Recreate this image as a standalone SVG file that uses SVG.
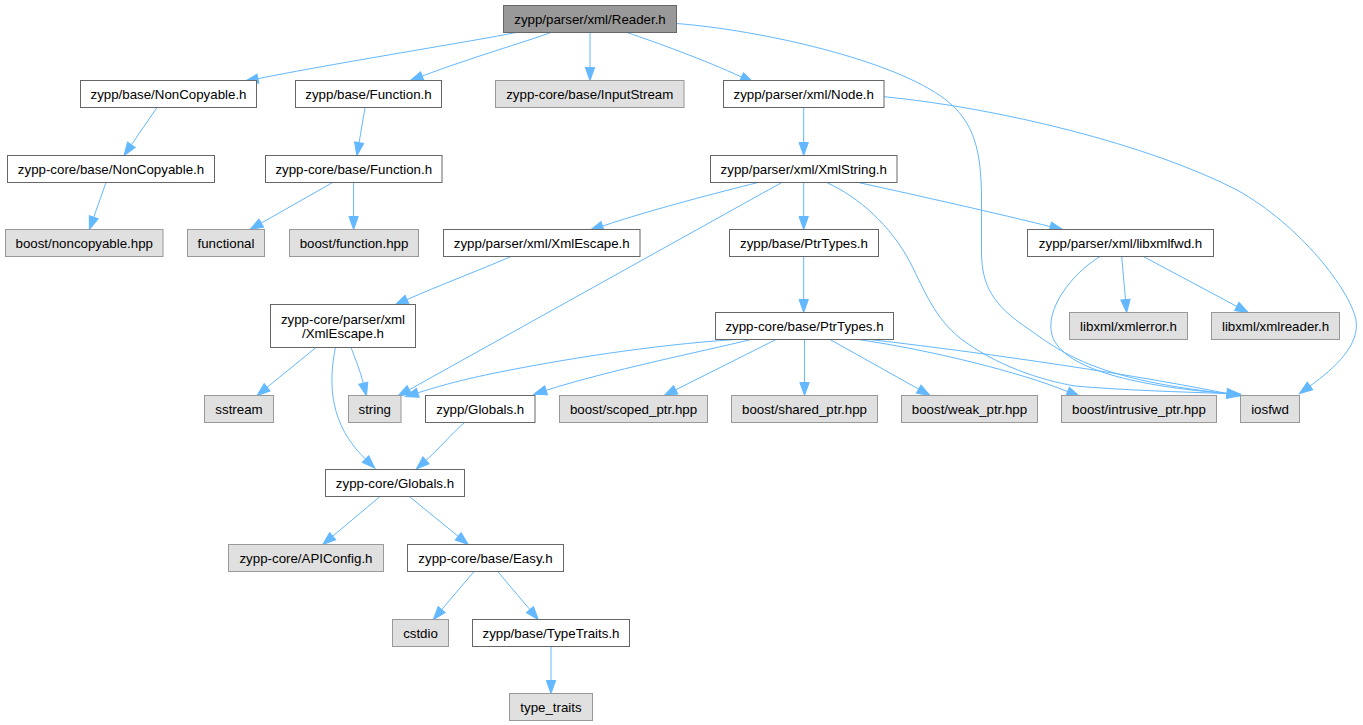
<svg xmlns="http://www.w3.org/2000/svg" width="1363" height="725" viewBox="0 0 1363 725">
<style>
.n rect{fill:#ffffff;stroke:#666666;stroke-width:1}
.x rect{fill:#e0e0e0;stroke:#999999;stroke-width:1}
.r rect{fill:#999999;stroke:#666666;stroke-width:1}
text{font-family:"Liberation Sans",Arial,Helvetica,sans-serif;font-size:13.3px;text-anchor:middle;fill:#000000}
#edges path{fill:none;stroke:#63b8ff;stroke-width:1;marker-end:url(#arr)}
</style>
<defs>
<marker id="arr" markerUnits="userSpaceOnUse" markerWidth="13" markerHeight="9.3" refX="0" refY="4.65" orient="auto" overflow="visible">
<path d="M0,0 L13,4.65 L0,9.3 z" fill="#63b8ff" stroke="#63b8ff" stroke-width="1"/>
</marker>
</defs>
<rect x="0" y="0" width="1363" height="725" fill="#ffffff"/>
<g id="edges">
<path d="M516,32.5 C480,40 330,64 257.9,78.7"/>
<path d="M551,32.5 C525,42 470,58 422.2,76.1"/>
<path d="M590,32.5 L590,67.5"/>
<path d="M627,32.5 C655,42 705,60 741.5,77"/>
<path d="M676.5,23.5 C760,30 895,60 946,100 C974,122 981.5,150 981.5,200 L981.5,253 C982,285 992,305 1030,330 C1065,355 1100,380 1227.2,393.5"/>
<path d="M803.7,107.5 L803.7,142.5"/>
<path d="M884,96.7 C1000,108 1150,145 1237,190 C1300,225 1350,290 1356,320 C1360,345 1335,368 1310,386"/>
<path d="M157,107.5 L131.4,144.8"/>
<path d="M106,182.5 L93.7,217.3"/>
<path d="M365,107.5 L359.1,142.7"/>
<path d="M332.6,182.5 L261.3,223.1"/>
<path d="M353.6,182.5 L353.6,216.5"/>
<path d="M758,182.5 C720,192 650,210 602.5,226.1"/>
<path d="M781.7,182.5 L409.3,389.7"/>
<path d="M803.7,182.5 L803.7,216.5"/>
<path d="M826.7,182.5 C860,198 890,225 910,262 C925,292 935,318 960,338 C995,365 1040,380 1075,386 C1120,390 1180,392 1227.2,393.5"/>
<path d="M858.3,182.5 C920,196 1000,214 1050.3,226.6"/>
<path d="M1121.7,256.5 L1125.5,299.6"/>
<path d="M1143.3,256.5 L1236.8,306.4"/>
<path d="M1100,256.5 C1070,275 1045,310 1052,335 C1060,362 1110,384 1227.2,393.5"/>
<path d="M511,256.5 C480,270 440,285 407,299.6"/>
<path d="M803.7,256.5 L803.7,299.5"/>
<path d="M735.8,339.5 C650,345 560,360 500,372 C460,380 440,386 417.8,392.8"/>
<path d="M751,339.5 C700,352 610,370 546.1,390.3"/>
<path d="M776,339.5 L675.7,389.8"/>
<path d="M804.5,339.5 L804.5,382.5"/>
<path d="M830,339.5 L918.7,389.1"/>
<path d="M858.3,339.5 C930,350 1020,372 1067.6,391.6"/>
<path d="M870,339.5 C960,350 1110,370 1227.2,393.5"/>
<path d="M316,347.5 L267.1,387.3"/>
<path d="M351,347.5 C355,358 360,370 363.3,383.2"/>
<path d="M335.4,347.5 C328,385 330,425 365.5,459.1"/>
<path d="M465.7,421.5 C450,435 440,448 426,460.4"/>
<path d="M380,496.5 L332.7,536.2"/>
<path d="M409.3,496.5 L458.2,536.3"/>
<path d="M474,571.5 L441.7,609.6"/>
<path d="M497.7,571.5 L529.9,609.6"/>
<path d="M551,646.5 L551,680.5"/>
</g>
<g id="reader" class="r"><rect x="503.5" y="5.5" width="173" height="27"/><text x="590" y="23.8">zypp/parser/xml/Reader.h</text></g>
<g id="noncopyable" class="n"><rect x="80.5" y="80.5" width="176" height="27"/><text x="168.5" y="98.8">zypp/base/NonCopyable.h</text></g>
<g id="function" class="n"><rect x="295.5" y="80.5" width="146" height="27"/><text x="368.5" y="98.8">zypp/base/Function.h</text></g>
<g id="inputstream" class="x"><rect x="495.5" y="80.5" width="188.5" height="27"/><text x="589.75" y="98.8">zypp-core/base/InputStream</text></g>
<g id="node" class="n"><rect x="723.5" y="80.5" width="160.5" height="27"/><text x="803.75" y="98.8">zypp/parser/xml/Node.h</text></g>
<g id="core_noncopyable" class="n"><rect x="7.5" y="155.5" width="207" height="27"/><text x="111" y="173.8">zypp-core/base/NonCopyable.h</text></g>
<g id="core_function" class="n"><rect x="265.5" y="155.5" width="176.5" height="27"/><text x="353.75" y="173.8">zypp-core/base/Function.h</text></g>
<g id="xmlstring" class="n"><rect x="710.5" y="155.5" width="186.5" height="27"/><text x="803.75" y="173.8">zypp/parser/xml/XmlString.h</text></g>
<g id="boost_noncopyable" class="x"><rect x="5.5" y="229.5" width="157.5" height="27"/><text x="84.25" y="247.8">boost/noncopyable.hpp</text></g>
<g id="functional" class="x"><rect x="187.5" y="229.5" width="77" height="27"/><text x="226" y="247.8">functional</text></g>
<g id="boost_function" class="x"><rect x="289.5" y="229.5" width="129" height="27"/><text x="354" y="247.8">boost/function.hpp</text></g>
<g id="xmlescape" class="n"><rect x="443.5" y="229.5" width="196.5" height="27"/><text x="541.75" y="247.8">zypp/parser/xml/XmlEscape.h</text></g>
<g id="ptrtypes" class="n"><rect x="729.5" y="229.5" width="149" height="27"/><text x="804" y="247.8">zypp/base/PtrTypes.h</text></g>
<g id="libxmlfwd" class="n"><rect x="1027.5" y="229.5" width="186" height="27"/><text x="1120.5" y="247.8">zypp/parser/xml/libxmlfwd.h</text></g>
<g id="core_xmlescape" class="n"><rect x="270.5" y="304.5" width="145" height="43"/><text x="343" y="323.5">zypp-core/parser/xml</text><text x="343" y="338">/XmlEscape.h</text></g>
<g id="core_ptrtypes" class="n"><rect x="715.5" y="312.5" width="178" height="27"/><text x="804.5" y="330.8">zypp-core/base/PtrTypes.h</text></g>
<g id="xmlerror" class="x"><rect x="1069.5" y="312.5" width="118" height="27"/><text x="1128.5" y="330.8">libxml/xmlerror.h</text></g>
<g id="xmlreader" class="x"><rect x="1211.5" y="312.5" width="128" height="27"/><text x="1275.5" y="330.8">libxml/xmlreader.h</text></g>
<g id="sstream" class="x"><rect x="204.5" y="395.5" width="69" height="27"/><text x="239" y="413.8">sstream</text></g>
<g id="string" class="x"><rect x="348.5" y="395.5" width="52.5" height="27"/><text x="374.75" y="413.8">string</text></g>
<g id="zypp_globals" class="n"><rect x="425.5" y="395.5" width="109.5" height="27"/><text x="480.25" y="413.8">zypp/Globals.h</text></g>
<g id="scoped_ptr" class="x"><rect x="559.5" y="395.5" width="148" height="27"/><text x="633.5" y="413.8">boost/scoped_ptr.hpp</text></g>
<g id="shared_ptr" class="x"><rect x="731.5" y="395.5" width="146" height="27"/><text x="804.5" y="413.8">boost/shared_ptr.hpp</text></g>
<g id="weak_ptr" class="x"><rect x="901.5" y="395.5" width="136" height="27"/><text x="969.5" y="413.8">boost/weak_ptr.hpp</text></g>
<g id="intrusive_ptr" class="x"><rect x="1061.5" y="395.5" width="155" height="27"/><text x="1139" y="413.8">boost/intrusive_ptr.hpp</text></g>
<g id="iosfwd" class="x"><rect x="1240.5" y="395.5" width="59" height="27"/><text x="1270" y="413.8">iosfwd</text></g>
<g id="core_globals" class="n"><rect x="325.5" y="469.5" width="139" height="27"/><text x="395" y="487.8">zypp-core/Globals.h</text></g>
<g id="apiconfig" class="x"><rect x="228.5" y="544.5" width="155" height="27"/><text x="306" y="562.8">zypp-core/APIConfig.h</text></g>
<g id="easy" class="n"><rect x="407.5" y="544.5" width="156" height="27"/><text x="485.5" y="562.8">zypp-core/base/Easy.h</text></g>
<g id="cstdio" class="x"><rect x="392.5" y="619.5" width="56" height="27"/><text x="420.5" y="637.8">cstdio</text></g>
<g id="typetraits" class="n"><rect x="472.5" y="619.5" width="157" height="27"/><text x="551" y="637.8">zypp/base/TypeTraits.h</text></g>
<g id="type_traits" class="x"><rect x="509.5" y="693.5" width="83" height="27"/><text x="551" y="711.8">type_traits</text></g>
</svg>
